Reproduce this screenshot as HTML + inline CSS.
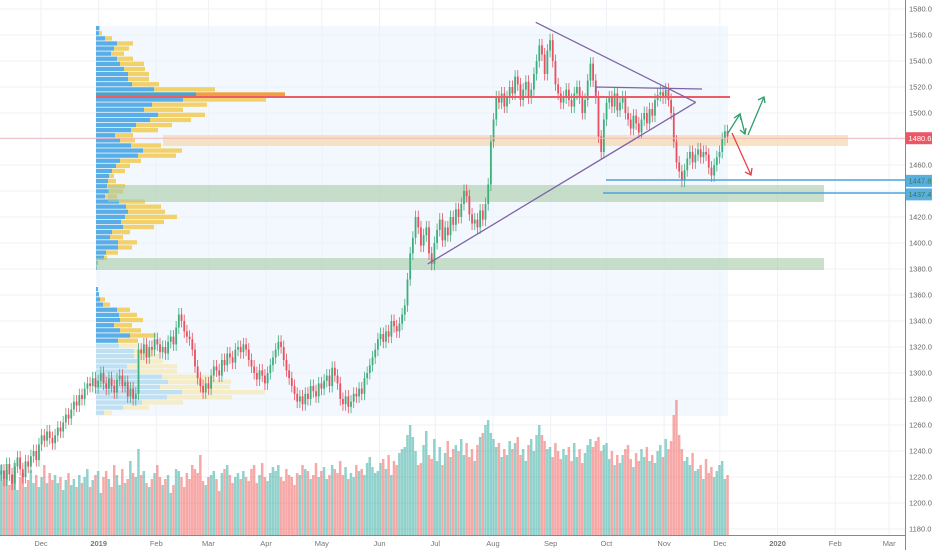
<!DOCTYPE html>
<html><head><meta charset="utf-8">
<style>
html,body{margin:0;padding:0;background:#fff;}
svg{display:block;font-family:"Liberation Sans",sans-serif;}
</style></head>
<body>
<svg id="chart" width="932" height="550" viewBox="0 0 932 550">
  <g id="grid"></g>
  <rect x="96" y="26" width="632" height="390" fill="#e9f4fc" opacity="0.6"/>
  <g id="vol"></g>
  <g id="profile"></g>
  <rect x="163" y="135" width="685" height="11" fill="#f5d9b0" opacity="0.75"/>
  <rect x="108" y="185" width="716" height="17" fill="#a9cca9" opacity="0.6"/>
  <rect x="96" y="258" width="728" height="12" fill="#a9cca9" opacity="0.6"/>
  <g id="candles"></g>
  <line x1="0" y1="138.2" x2="905" y2="138.2" stroke="#f4b7c0" stroke-width="1"/>
  <line x1="96" y1="97" x2="730" y2="97" stroke="#ee5a66" stroke-width="2"/>
  <line x1="606" y1="180" x2="905" y2="180" stroke="#4ca3dd" stroke-width="1.5"/>
  <line x1="603" y1="193" x2="905" y2="193" stroke="#4ca3dd" stroke-width="1.5"/>
  <g stroke="#7e63a8" stroke-width="1.3" fill="none">
    <line x1="535.7" y1="22.3" x2="695.7" y2="102.3"/>
    <line x1="427.7" y1="264" x2="695.7" y2="102.3"/>
    <polyline points="596,92 596,87 702,89"/>
  </g>
  <g stroke="#2e9e6a" stroke-width="1.3" fill="none">
    <polyline points="728,133 740,114 745,134"/>
    <polyline points="734,118 740,114 741,120"/>
    <line x1="748" y1="135" x2="764" y2="97"/>
    <polyline points="758,100 764,97 765,103"/>
    <polyline points="740,130 745,134 746,128"/>
  </g>
  <g stroke="#e8404a" stroke-width="1.3" fill="none">
    <line x1="732" y1="133" x2="751" y2="175"/>
    <polyline points="745,172 751,175 752,168"/>
  </g>
  <g id="axes"></g>
</svg>
<script>
// ---- data ----
const closes = [
1225,1218,1230,1222,1215,1228,1235,1226,1220,1232,
1228,1236,1240,1233,1245,1252,1248,1255,1250,1246,
1252,1258,1255,1262,1268,1265,1272,1278,1275,1283,
1280,1288,1292,1290,1296,1289,1294,1300,1292,1288,
1296,1290,1285,1295,1298,1290,1293,1282,1288,1280,
1284,1318,1315,1322,1312,1320,1318,1326,1322,1316,
1320,1315,1324,1328,1322,1335,1345,1340,1332,1328,
1326,1318,1305,1296,1290,1285,1292,1288,1298,1305,
1302,1298,1310,1306,1315,1312,1308,1318,1320,1316,
1322,1318,1310,1305,1300,1295,1302,1298,1292,1300,
1306,1312,1318,1324,1320,1310,1302,1296,1290,1284,
1278,1282,1276,1284,1280,1290,1286,1282,1292,1288,
1294,1298,1290,1304,1298,1292,1280,1276,1282,1274,
1278,1284,1282,1288,1284,1296,1300,1306,1312,1318,
1326,1330,1324,1332,1328,1340,1336,1332,1338,1345,
1352,1372,1392,1404,1420,1412,1398,1406,1412,1392,
1384,1400,1410,1418,1402,1412,1406,1420,1414,1426,
1420,1430,1440,1436,1422,1415,1418,1412,1425,1418,
1430,1445,1478,1495,1512,1508,1515,1505,1512,1520,
1515,1528,1522,1510,1518,1524,1512,1518,1530,1540,
1552,1545,1530,1548,1556,1540,1522,1515,1508,1512,
1518,1510,1505,1515,1520,1512,1500,1510,1525,1538,
1525,1512,1482,1470,1495,1508,1512,1505,1515,1502,
1508,1512,1500,1495,1488,1498,1492,1485,1495,1500,
1492,1503,1498,1510,1514,1516,1512,1518,1510,1500,
1478,1462,1455,1448,1456,1465,1470,1462,1468,1472,
1466,1470,1468,1458,1452,1460,1466,1470,1480,1486,
1482];
const volumes = [
70,55,65,50,60,72,45,58,62,48,
55,65,52,60,48,58,70,52,62,55,
60,52,58,45,55,62,50,56,48,60,
52,58,66,48,55,60,64,42,58,64,
56,48,70,60,50,66,52,56,74,62,
58,86,60,64,52,48,56,62,70,58,
50,56,60,42,50,66,64,58,48,62,
56,70,66,62,80,54,50,58,60,64,
56,44,62,66,70,60,52,58,62,56,
64,58,54,66,70,52,60,72,58,54,
62,68,64,70,58,54,66,60,58,50,
62,60,70,66,64,56,60,72,58,64,
68,56,60,70,66,62,74,60,68,56,
62,58,70,64,66,60,72,78,68,62,
64,72,76,66,80,60,74,70,82,86,
88,100,110,98,84,70,72,90,104,80,
76,96,74,88,70,82,94,78,86,90,
84,96,80,92,78,86,74,90,98,102,
110,115,102,96,88,92,78,86,80,94,
86,92,98,80,86,74,90,96,84,100,
110,100,94,86,88,78,92,84,76,86,
80,88,74,92,78,86,72,82,90,96,
88,94,98,84,90,92,76,84,70,80,
72,80,86,90,76,68,82,74,86,78,
88,74,80,72,84,90,78,96,86,94,
120,135,100,86,74,78,70,82,64,66,
70,56,76,62,68,58,64,70,74,56,
60];
const upperUp   = [3,3,9,21,18,15,21,24,28,32,32,36,58,100,87,56,48,62,54,40,35,19,24,35,47,42,24,20,16,13,12,11,13,9,23,30,32,29,25,27,16,14,22,22,10,8,2,1];
const upperDown = [1,3,7,16,15,13,16,24,21,21,21,27,61,89,83,55,39,47,41,36,27,18,15,30,39,38,21,14,13,5,8,18,14,12,26,35,37,52,43,31,18,13,19,14,12,3,0,0];
const lowerUp   = [2,3,4,7,21,23,24,18,24,34,22,23,38,38,41,31,41,66,72,64,86,71,46,27,8];
const lowerDown = [0,0,5,7,13,18,23,18,21,26,20,20,21,25,26,50,40,51,63,70,83,65,41,26,8];
const priceTicks = [1180,1200,1220,1240,1260,1280,1300,1320,1340,1360,1380,1400,1420,1440,1460,1480,1500,1520,1540,1560,1580];
const dateLabels = ["Dec","2019","Feb","Mar","Apr","May","Jun","Jul","Aug","Sep","Oct","Nov","Dec","2020","Feb","Mar"];
const dateDays = [0,31,62,90,121,151,182,212,243,274,304,335,365,396,427,456];

// ---- scales ----
const NS='http://www.w3.org/2000/svg';
const yP = p => 9 + (1580 - p) * 1.3;
const xB = i => 1.3 + i * 2.69;
const xD = d => 41 + d * 1.86;
const yV = v => 535 - v;
function mk(tag, attrs, parent){const e=document.createElementNS(NS,tag);for(const k in attrs)e.setAttribute(k,attrs[k]);parent.appendChild(e);return e;}

const grid=document.getElementById('grid');
priceTicks.forEach(p=>{
  const l=mk('line',{x1:0,x2:905,y1:yP(p),y2:yP(p),stroke:'#eef1f5','stroke-width':1},grid);
  
  
});
dateDays.forEach(d=>{
  const l=mk('line',{x1:xD(d),x2:xD(d),y1:0,y2:535,stroke:'#eef1f5','stroke-width':1},grid);
  
  
});

const vol=document.getElementById('vol');
closes.forEach((c,i)=>{
  const o = i>0?closes[i-1]:c;
  const up = c>=o;
  const r=mk('rect',{x:xB(i)-1.3,y:yV(volumes[i]),width:2.5,height:volumes[i],fill:up?'rgba(38,166,154,0.5)':'rgba(239,83,80,0.5)'},vol);
  
  
});

const prof=document.getElementById('profile');
upperUp.forEach((u,i)=>{
  const y=26+i*5.1, poc=(i===13);
  const a=mk('rect',{x:96,y:y,width:u,height:4.3,fill:poc?'#4aa3c8':'#5aaee8'},prof);
  
  
  const b=mk('rect',{x:96+u,y:y,width:upperDown[i],height:4.3,fill:poc?'#f0a040':'#f2d06a'},prof);
  
  
});
lowerUp.forEach((u,i)=>{
  const y=287+i*5.15, light=i>=11;
  const a=mk('rect',{x:96,y:y,width:u,height:4.3,fill:light?'#bfe0f2':'#5aaee8'},prof);
  
  
  const b=mk('rect',{x:96+u,y:y,width:lowerDown[i],height:4.3,fill:light?'#f5ecc8':'#f2d06a'},prof);
  
  
});

const cg=document.getElementById('candles');
closes.forEach((c,i)=>{
  const o = i>0?closes[i-1]:c-3;
  const up = c>=o;
  const col = up?'#3fae7d':'#e8505f';
  const hi=Math.max(o,c)+5, lo=Math.min(o,c)-5;
  const x=xB(i);
  const w=mk('line',{x1:x,x2:x,y1:yP(hi),y2:yP(lo),stroke:col,'stroke-width':0.8},cg);
  
  
  const top=yP(Math.max(o,c)), h=Math.max(1,yP(Math.min(o,c))-top);
  const b=mk('rect',{x:x-0.9,y:top,width:1.8,height:h,fill:col},cg);
  
  
});

const ax=document.getElementById('axes');
const a1=mk('line',{x1:905.5,x2:905.5,y1:0,y2:550,stroke:'#888','stroke-width':1},ax);


const a2=mk('line',{x1:0,x2:905,y1:535.5,y2:535.5,stroke:'#888','stroke-width':1},ax);


priceTicks.forEach(p=>{
  const t=mk('text',{x:909,y:yP(p)+2.7,'font-size':7.5,fill:'#666'},ax);
  t.textContent=p.toFixed(1);
  
  
});
dateLabels.forEach((s,i)=>{
  const t=mk('text',{x:xD(dateDays[i]),y:546,'font-size':7.5,fill:'#777','text-anchor':'middle','font-weight':s==='2019'||s==='2020'?'bold':'normal'},ax);
  t.textContent=s;
  
  
});
function tag(p,label,bg,fg,name){
  const g=mk('g',{},ax);
  
  
  mk('rect',{x:906,y:yP(p)-6,width:26,height:12,fill:bg},g);
  const t=mk('text',{x:908.5,y:yP(p)+2.7,'font-size':7.5,fill:fg},g);
  t.textContent=label;
}
tag(1480.6,'1480.6','#ec5766','#fff','last-price-tag');
tag(1447.8,'1447.8','#5aaee0','#2f7d5a','support-tag-1447');
tag(1437.4,'1437.4','#5aaee0','#2f7d5a','support-tag-1437');
</script>
</body></html>
